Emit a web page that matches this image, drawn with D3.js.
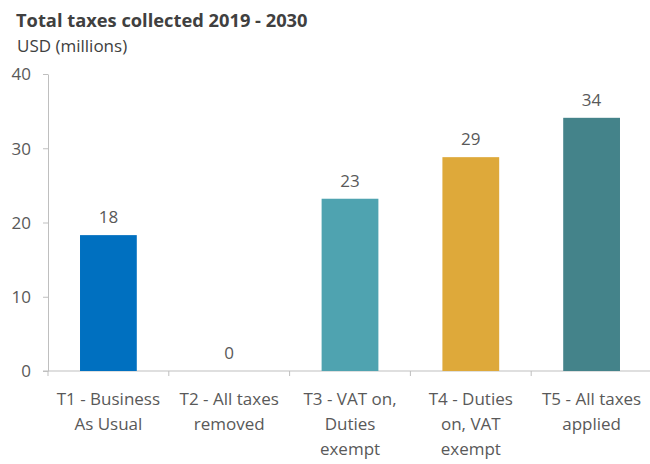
<!DOCTYPE html>
<html>
<head>
<meta charset="utf-8">
<script src="https://cdn.jsdelivr.net/npm/d3@7"></script>
<style>
    body { margin: 0; background: #fff; font-family: "Open Sans", "Noto Sans", sans-serif; }
    .title { font-weight: 700; fill: #404040; font-size: 18.3px; }
    .subtitle { fill: #404040; font-size: 17px; }
    .axis text { fill: #595959; font-size: 17px; font-family: "Open Sans", sans-serif; }
    .axis line, .axis path { stroke: #bfbfbf; }
    .value-label { fill: #595959; font-size: 17px; }
</style>
</head>
<body>
<div id="chart"></div>
<script>
// Total taxes collected by scenario, USD millions
const categories = [
    ["T1 - Business", "As Usual"],
    ["T2 - All taxes", "removed"],
    ["T3 - VAT on,", "Duties", "exempt"],
    ["T4 - Duties", "on, VAT", "exempt"],
    ["T5 - All taxes", "applied"],
];
const values = [18.3, 0, 23.2, 28.8, 34.1];
const valueLabels = ["18", "0", "23", "29", "34"];
const colors = ["#0070c0", "#a5a5a5", "#4fa3b0", "#dea93a", "#44838a"];
const yTicks = [0, 10, 20, 30, 40];

const width = 650;
const height = 464;
const margin = { top: 74, right: -2, bottom: 93, left: 48 };
const innerW = width - margin.left - margin.right;
const innerH = height - margin.top - margin.bottom;

const svg = d3.select("#chart")
    .append("svg")
    .attr("width", width)
    .attr("height", height);

svg.append("text")
    .attr("class", "title")
    .attr("x", 16)
    .attr("y", 27)
    .text("Total taxes collected 2019 - 2030");

svg.append("text")
    .attr("class", "subtitle")
    .attr("x", 17)
    .attr("y", 52)
    .text("USD (millions)");

const g = svg.append("g")
    .attr("transform", `translate(${margin.left},${margin.top})`);

const keys = categories.map((_, i) => i);
const x = d3.scaleBand().domain(keys).range([0, innerW]).paddingInner(0.53).paddingOuter(0.265);
const y = d3.scaleLinear().domain([0, 40]).range([innerH, 0]);

// Y axis
const yAxis = g.append("g")
    .attr("class", "axis")
    .call(d3.axisLeft(y).tickValues(yTicks).tickSize(5).tickPadding(12).tickSizeOuter(0));
yAxis.selectAll(".tick text").attr("dy", "0.35em");

// X axis: ticks at band boundaries
const xb = g.append("g")
    .attr("class", "axis")
    .attr("transform", `translate(0,${innerH})`);
xb.append("line")
    .attr("x1", -5).attr("x2", innerW)
    .attr("stroke", "#bfbfbf");
const step = x.step();
xb.selectAll(".sep")
    .data(d3.range(categories.length + 1))
    .join("line")
    .attr("x1", (i) => i * step)
    .attr("x2", (i) => i * step)
    .attr("y1", 0).attr("y2", 5)
    .attr("stroke", "#bfbfbf");

const labels = xb.selectAll(".cat")
    .data(categories)
    .join("text")
    .attr("class", "cat")
    .attr("text-anchor", "middle")
    .attr("transform", (_, i) => `translate(${x(i) + x.bandwidth() / 2},0)`)
    .style("fill", "#595959")
    .style("font-size", "17px");
labels.selectAll("tspan")
    .data((d) => d)
    .join("tspan")
    .attr("x", 0)
    .attr("y", (_, j) => 34 + j * 25)
    .text((d) => d);

// Bars
g.selectAll(".bar")
    .data(values)
    .join("rect")
    .attr("class", "bar")
    .attr("x", (_, i) => x(i))
    .attr("width", x.bandwidth())
    .attr("y", (d) => y(d))
    .attr("height", (d) => innerH - y(d))
    .attr("fill", (_, i) => colors[i]);

// Value labels
g.selectAll(".value-label")
    .data(values)
    .join("text")
    .attr("class", "value-label")
    .attr("text-anchor", "middle")
    .attr("x", (_, i) => x(i) + x.bandwidth() / 2)
    .attr("y", (d) => y(d) - 12)
    .text((_, i) => valueLabels[i]);
</script>
</body>
</html>
